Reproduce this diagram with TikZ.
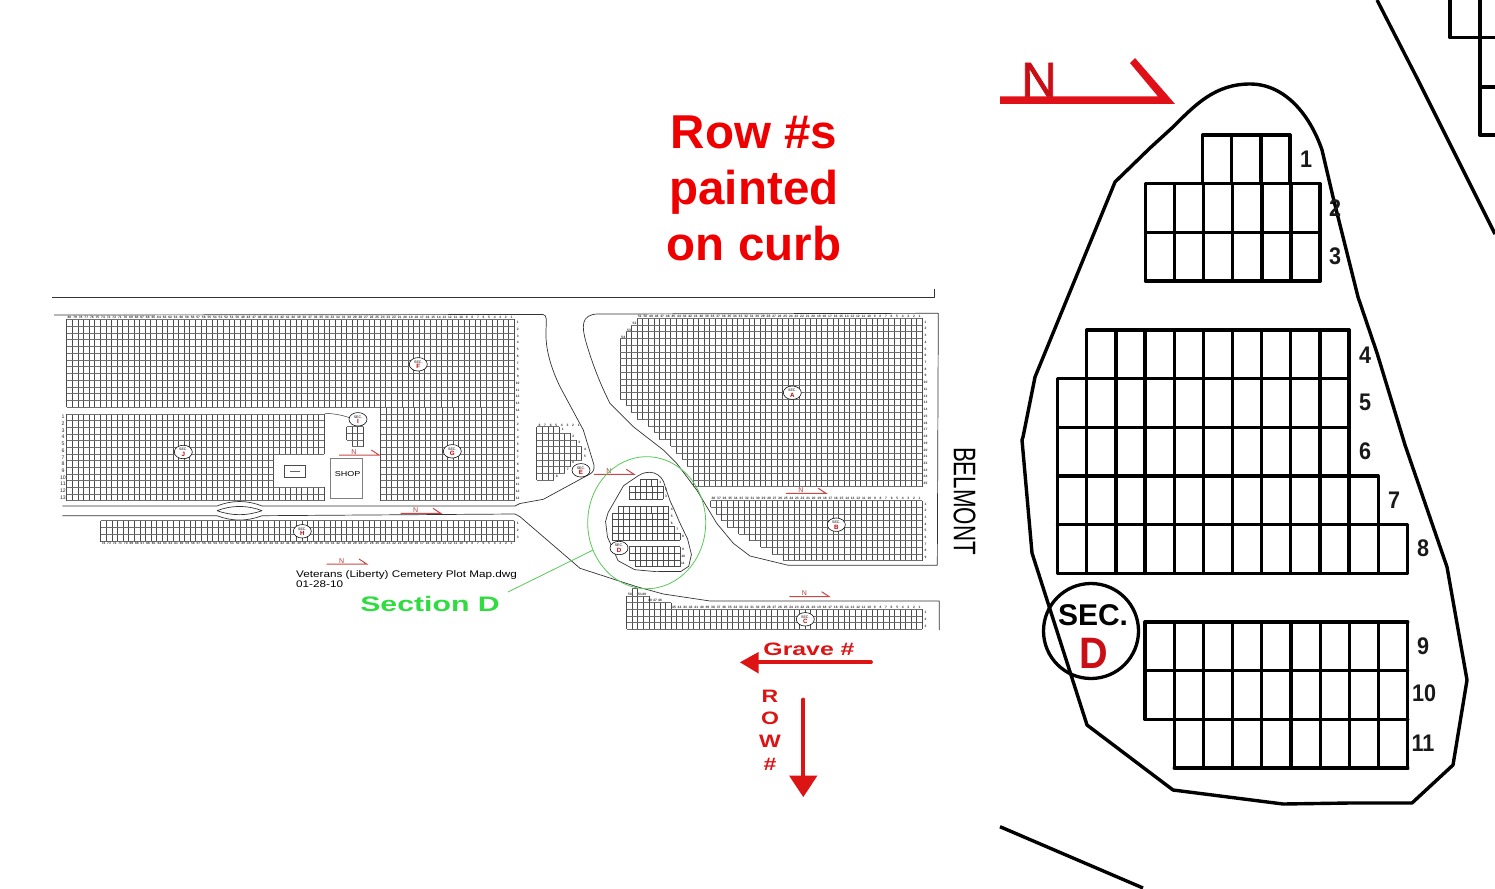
\documentclass[tikz,border=0pt]{standalone}
\usepackage{fontspec}
\setmainfont{Liberation Sans}
\newfontfamily\fatsans[FakeBold=1.4]{Liberation Sans}
\usetikzlibrary{shapes.geometric}
\definecolor{gridc}{HTML}{4A4A4A}
\definecolor{gridh}{HTML}{6E6E6E}
\definecolor{roadc}{HTML}{333333}
\definecolor{markred}{HTML}{C84848}
\definecolor{insetred}{HTML}{E01018}
\definecolor{bigred}{HTML}{EE0000}
\definecolor{arrowred}{HTML}{DC1414}
\definecolor{greenring}{HTML}{58C858}
\definecolor{greentxt}{HTML}{30DC40}
\tikzset{
  gridln/.style={draw=gridc,line width=0.6pt},
  gridhz/.style={draw=gridh,line width=0.6pt},
  roadln/.style={draw=roadc,line width=0.7pt,line join=round},
  insetln/.style={draw=black,line width=3.4pt,line join=round},
  tinytxt/.style={inner sep=0pt,font=\bfseries\fontsize{3.3}{3.3}\selectfont,text=black!80},
  rowtxt/.style={inner sep=0pt,font=\fontsize{5.2}{5.2}\selectfont,text=black!85},
  secring/.style={ellipse,draw=black,fill=white,line width=0.55pt,minimum width=18pt,minimum height=13.5pt,inner sep=0pt},
  insetnum/.style={inner sep=0pt,font=\bfseries\fontsize{24}{24}\selectfont,text=black!90},
  nline/.style={draw=markred,line width=1pt},
}
% x y cw rh ncols nrows
\newcommand\cells[6]{%
  \foreach \i in {0,...,#5} \draw[gridln] ({#1+\i*#3},{#2}) -- ++(0,{#6*#4});
  \foreach \j in {0,...,#6} \draw[gridhz] ({#1},{#2+\j*#4}) -- ++({#5*#3},0);
}
% xright ytop cw rh list-of-ncols
\newcommand\stair[5]{%
  \foreach \nc [count=\rr from 0] in {#5} {\cells{#1-\nc*#3}{#2+\rr*#4}{#3}{#4}{\nc}{1}}%
}
% x y0 rh font-style from to
\newcommand\rownums[6]{%
  \foreach \k in {#5,...,#6} \node[#4] (rn\k) at ({#1},{#2+(\k-#5)*#3}) {\k};
}
% xright y cw from
\newcommand\colnums[4]{%
  \foreach \k in {#4,...,1} \node[tinytxt] (cn\k) at ({#1-(\k-0.5)*#3},{#2}) {\k};
}
\newcommand\northmark[2]{%
  \draw[nline] ({#1},{#2}) -- ++(40,0) -- ++(-7.7,-5);
  \node[inner sep=0pt,anchor=base,font=\fontsize{7}{7}\selectfont,text=markred!85!black] (nm#1) at ({#1+15},{#2-1}) {N};
}
\newcommand\secmark[3]{%
  \node[secring] (sec#3) at (#1,#2) {};
  \node[inner sep=0pt,font=\fontsize{3.6}{3.6}\selectfont] (sect#3) at (#1,{#2-2.3}) {SEC.};
  \node[inner sep=0pt,font=\bfseries\fontsize{6.2}{6.2}\selectfont,text=red!75!black] (secl#3) at (#1,{#2+2.3}) {#3};
}
% Section D plan, in the coordinates of the enlarged view
\newcommand\outlineD[1]{%
  \draw[#1] (1115,182) -- (1150,148) -- (1173,127) .. controls (1195,105) and (1215,84) .. (1250,84)
    .. controls (1285,84) and (1310,115) .. (1322,150) -- (1333,197) -- (1358,297) -- (1377,353) -- (1405,445)
    -- (1447,567) -- (1467,680) -- (1453,765) -- (1412,803) -- (1350,803) -- (1283,804) -- (1173,790)
    -- (1087,725) -- (1032,553) -- (1022,440) -- (1023,437) -- (1035,377) -- cycle;
}
\newcommand\cellsD[1]{%
  \tikzset{gridln/.style={#1},gridhz/.style={#1}}%
  \cells{1202.7}{135}{29.1}{48.7}{3}{1}
  \cells{1145.5}{183.7}{29.1}{48.7}{6}{2}
  \cells{1086.7}{330}{29.15}{48.7}{9}{1}
  \cells{1057.6}{378.7}{29.15}{48.7}{10}{2}
  \cells{1057.6}{476.1}{29.15}{48.7}{11}{1}
  \cells{1057.6}{524.8}{29.15}{48.7}{12}{1}
  \cells{1145}{622}{29.2}{48.7}{9}{2}
  \cells{1174.2}{719.4}{29.2}{48.7}{8}{1}
}
\begin{document}
\begin{tikzpicture}[x=1pt,y=-1pt]
\useasboundingbox (0,0) rectangle (1495,888);
% title
\node[inner sep=0pt,anchor=base,text=bigred,font=\bfseries\fontsize{47.5}{47.5}\selectfont] (t1) at (754,148) {Row \#s};
\node[inner sep=0pt,anchor=base,text=bigred,font=\bfseries\fontsize{47.5}{47.5}\selectfont] (t2) at (754,204) {painted};
\node[inner sep=0pt,anchor=base,text=bigred,font=\bfseries\fontsize{47.5}{47.5}\selectfont] (t3) at (754,260) {on curb};
% boundary lines and roads
\draw[roadln] (52,297) -- (934,297) -- (934,289);
\draw[roadln] (54,315) -- (543,314.5) .. controls (547,315) and (546.5,320) .. (546,330) .. controls (545,350) and (552,370) .. (560,386.7)
  -- (583.3,430) -- (594,465) .. controls (595,470) and (592,473) .. (590,474) -- (543.3,499.3) -- (520,503.5) -- (515,506) -- (262,506);
\draw[roadln] (262,506) .. controls (247,500) and (232,500) .. (217,506) -- (62.3,506);
\draw[roadln] (62.3,515.7) -- (217,515.7) .. controls (232,521.5) and (247,521.5) .. (262,515.7) -- (515,514) -- (520,516.7) -- (580,568.3)
  -- (636.7,586.7) -- (663.3,594) -- (710,601) -- (939.3,601) -- (939.3,630);
\draw[roadln] (217,510.7) .. controls (232,505) and (247,505) .. (262,510.7) .. controls (247,516) and (232,516) .. (217,510.7);
\draw[roadln] (598.3,314) -- (938.3,313.3) -- (937.3,565.3) -- (788.3,565.3) -- (750,556) -- (733.3,543.3) -- (716.7,523.3) -- (696.7,490)
  -- (676.7,463.3) -- (663.3,450) -- (633.3,426.7) -- (610,403.3) .. controls (598,380) and (590,356) .. (586,342) .. controls (582,328) and (580,314) .. (598.3,314);
% sections F, G
\cells{66.7}{319.3}{5.595}{6.77}{80}{13}
\cells{380.5}{407.3}{5.575}{6.67}{24}{14}
\colnums{514.3}{317}{5.595}{80}
\rownums{517.7}{322.6}{6.73}{tinytxt}{1}{14}
\rownums{517.7}{417.3}{6.73}{tinytxt}{1}{13}
% section J with the cut-out
\cells{66.7}{414}{5.595}{6.67}{46}{6}
\cells{66.7}{454}{5.595}{6.67}{37}{5}
\cells{66.7}{487.4}{5.595}{6.67}{46}{2}
\rownums{63}{417}{6.72}{rowtxt}{1}{13}
% small block near the shop
\draw[roadln,line width=0.5pt] (325,413.3) .. controls (342,414) and (355,418) .. (363.3,426.7);
\cells{352.2}{426.7}{5.5}{6.67}{2}{3}
\cells{346.7}{426.7}{5.5}{6.67}{1}{2}
% shop
\node[draw=gridc!70,line width=0.6pt,fill=white,minimum width=32pt,minimum height=40.4pt,inner sep=0pt] (shop) at (346.5,478.5) {};
\node[inner sep=0pt,font=\fontsize{7.2}{7.2}\selectfont] (shoptxt) at (347.5,474) {\scalebox{1.25}[1]{SHOP}};
\node[draw=gridc,line width=0.5pt,fill=white,minimum width=21.4pt,minimum height=12pt,inner sep=0pt] (office) at (295,471.3) {\color{black!60}\rule{10pt}{0.8pt}};
% section H
\cells{100.7}{520.7}{5.59}{7}{74}{3}
\colnums{514.3}{543.5}{5.59}{74}
\rownums{517.7}{523.5}{7}{tinytxt}{1}{3}
% section A
\stair{922.3}{318.3}{5.593}{6.73}{51,52,53,54,54,54,54,54,54,54,54,54,53,52,51,49,48,47,45,44,43,42,41,41,41}
\colnums{922.3}{316.3}{5.593}{51}
\node[tinytxt] (a52) at (634.5,323.4) {52};
\node[tinytxt] (a53) at (629,330) {53};
\node[tinytxt] (a54) at (623.3,337) {54};
\rownums{925.5}{322}{6.73}{tinytxt}{1}{25}
% section B
\stair{922.3}{500.7}{5.57}{6.67}{38,37,36,35,33,31,29,27,25}
\colnums{922.3}{498.3}{5.57}{38}
\rownums{925.5}{504}{6.67}{tinytxt}{1}{9}
% section C
\stair{922.3}{609.3}{5.58}{6.67}{53,53,53}
\cells{626.6}{602.6}{5.58}{6.67}{8}{1}
\cells{626.6}{595.9}{5.58}{6.67}{4}{1}
\cells{632.2}{588.4}{5.58}{7.5}{1}{1}
\colnums{922.3}{607.4}{5.58}{45}
\rownums{925.5}{612.6}{6.67}{tinytxt}{1}{3}
\foreach \k/\xx/\yy in {50/630/594.5,51/640/594.5,49/644/594.5,48/650/600.7,47/655/600.7,46/660/600.7}
  \node[tinytxt] (cc\k) at (\xx,\yy) {\k};
% section E
\stair{536.7}{426.7}{-5.6}{6.67}{4,6,7,8,8,6,5,3}
\foreach \k [count=\c from 0] in {8,7,6,5,4,3,2,1} \node[tinytxt] (ee\k) at ({539.5+\c*5.6},425) {\k};
\foreach \k/\xx/\yy in {1/562.7/429,2/573.3/436,3/579.3/442.7,4/585/449.3,5/585/456,6/573.3/462.7,7/567.7/469,8/556.7/476}
  \node[tinytxt] (er\k) at (\xx,\yy) {\k};
% small section D
\begin{scope}[xshift=408.3pt,yshift=-460.67pt,xscale=0.193,yscale=0.138]
  \outlineD{roadln}
  \begingroup
  \cellsD{draw=gridc,line width=0.6pt}
  \endgroup
  \foreach \k/\xx/\yy in {1/1306/159,2/1335/208,3/1335/256,4/1365/355,5/1365/402,6/1365/451,7/1394/500,8/1423/548,9/1423/646,10/1424/693,11/1423/743}
    \node[tinytxt] (ds\k) at (\xx,\yy) {\k};
\end{scope}
% section markers
\secmark{418.3}{364.3}{F}
\secmark{183.3}{452}{J}
\secmark{452.3}{451.3}{G}
\secmark{358}{419.3}{I}
\secmark{302.3}{531.3}{H}
\secmark{792.3}{392.7}{A}
\secmark{836.3}{524.7}{B}
\secmark{805.3}{619.3}{C}
\secmark{581}{470.3}{E}
\secmark{619}{548}{D}
% north marks
\northmark{339}{455}
\northmark{400.7}{513.3}
\northmark{326.7}{564}
\northmark{594}{474.3}
\northmark{786}{493.3}
\northmark{789.3}{596.7}
% green ring and leader
\node[ellipse,draw=greenring,line width=0.8pt,minimum width=118pt,minimum height=132pt,inner sep=0pt] (ring) at (646.7,522.7) {};
\coordinate (leadfree) at (508,592);
\draw[draw=greenring,line width=0.8pt] (leadfree) -- (ring.207);
\node[inner sep=0pt,text=greentxt,font=\bfseries\fontsize{21}{21}\selectfont] (secDlabel) at (430,604) {\scalebox{1.44}[1]{Section D}};
% caption
\node[inner sep=0pt,anchor=base west,font=\fontsize{9.6}{9.6}\selectfont] (cap1) at (296,577) {\scalebox{1.22}[1]{Veterans (Liberty) Cemetery Plot Map.dwg}};
\node[inner sep=0pt,anchor=base west,font=\fontsize{9.6}{9.6}\selectfont] (cap2) at (296,587) {\scalebox{1.22}[1]{01-28-10}};
% BELMONT
\node[inner sep=0pt,rotate=-90,font=\fontsize{22.3}{22.3}\selectfont] (belmont) at (964.5,501) {\scalebox{1}[1.4]{BELMONT}};
% Grave and Row arrows
\node[inner sep=0pt,text=arrowred,font=\bfseries\fontsize{18}{18}\selectfont] (grave) at (809,649) {\scalebox{1.38}[1]{Grave \#}};
\coordinate (gravefrom) at (871,662.3);
\coordinate (graveto) at (745,662.3);
\draw[draw=arrowred,line width=3.8pt,line cap=round] (gravefrom) -- (graveto);
\fill[arrowred] (740,662.3) -- (758.5,652) -- (758.5,673.5) -- cycle;
\foreach \ll/\yy in {R/696,O/718,W/741,\#/764}
  \node[inner sep=0pt,text=arrowred,font=\bfseries\fontsize{18}{18}\selectfont] (rowl\yy) at (770,\yy) {\scalebox{1.28}[1]{\ll}};
\coordinate (rowfrom) at (803.3,699.5);
\coordinate (rowto) at (803.3,782);
\draw[draw=arrowred,line width=3.8pt,line cap=round] (rowfrom) -- (rowto);
\fill[arrowred] (803.3,797) -- (789,775.5) -- (817.5,775.5) -- cycle;
% enlarged view of section D
\begin{scope}
  \outlineD{insetln}
  \cellsD{draw=black,line width=3.3pt,line cap=round}
\end{scope}
\foreach \k/\xx/\yy in {1/1306/159,2/1335/208,3/1335/256,4/1365/355,5/1365/402,6/1365/451,7/1394/500,8/1423/548,9/1423/646,10/1424/693,11/1423/743}
  \node[insetnum] (dl\k) at (\xx,\yy) {\scalebox{0.9}[1]{\k}};
\node[circle,draw=black,line width=3.3pt,minimum size=95pt,inner sep=0pt] (dring) at (1091,631) {};
\node[inner sep=0pt,font=\bfseries\fontsize{30}{30}\selectfont] (dsec) at (1093,615.5) {SEC.};
\node[inner sep=0pt,text=insetred!90!black,font=\bfseries\fontsize{44}{44}\selectfont] (dd) at (1094,653.5) {\scalebox{0.9}[1]{D}};
% north mark of the enlarged view
\fill[insetred] (1000,96.5) -- (1158,96.5) -- (1130,63) -- (1135,58) -- (1175,104) -- (1000,104) -- cycle;
\node[inner sep=0pt,anchor=base,text=insetred!90!black,font=\fatsans\fontsize{49}{49}\selectfont] (bigN) at (1039,96.7) {N};
% neighbouring lines
\draw[insetln] (1377,0) -- (1418,80) -- (1495,234);
\draw[insetln] (1450,0) -- (1450,37.7) -- (1495,37.7);
\draw[insetln] (1480,0) -- (1480,135) -- (1495,135);
\draw[insetln] (1480,87) -- (1495,87);
\draw[insetln] (1000,826.7) -- (1143,888);
\end{tikzpicture}
\end{document}
